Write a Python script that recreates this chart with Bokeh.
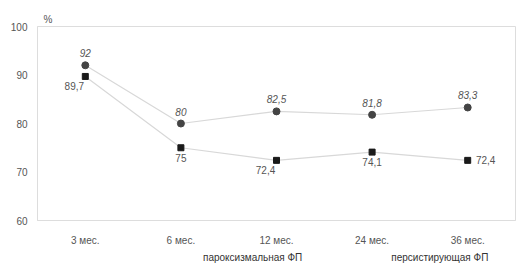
from bokeh.plotting import figure
from bokeh.layouts import column
from bokeh.models import Range1d, FactorRange, Legend, LegendItem, ColumnDataSource
from bokeh.core.properties import value
from bokeh.embed import file_html
from bokeh.resources import INLINE

periods = ["3 мес.", "6 мес.", "12 мес.", "24 мес.", "36 мес."]
parox = [92, 80, 82.5, 81.8, 83.3]
persist = [89.7, 75, 72.4, 74.1, 72.4]
parox_lbl = ["92", "80", "82,5", "81,8", "83,3"]
persist_lbl = ["89,7", "75", "72,4", "74,1", "72,4"]
y_ticks = [60, 70, 80, 90, 100]
series_names = ["пароксизмальная ФП", "персистирующая ФП"]

FONT = "Liberation Sans"
TXT = "#555555"
LINE_C = "#d8d8d8"
P_C = "#444444"
S_C = "#1a1a1a"

p = figure(frame_width=478, frame_height=194, x_range=FactorRange(*periods), y_range=Range1d(60, 100),
           output_backend="svg", toolbar_location=None,
           min_border_left=37, min_border_right=2, min_border_top=26, min_border_bottom=0)
p.title.text = "%"
p.title.text_font = FONT
p.title.text_font_size = "10px"
p.title.text_font_style = "normal"
p.title.text_color = TXT
p.title.align = "left"
p.title.offset = 6
p.title.standoff = 4

p.outline_line_color = "#dddddd"
p.xgrid.visible = False
p.ygrid.visible = False
p.background_fill_color = "white"
p.border_fill_color = "white"

src_p = ColumnDataSource(dict(x=periods, y=parox, t=parox_lbl))
src_s = ColumnDataSource(dict(x=periods, y=persist, t=persist_lbl,
                              xo=[-11, 0, -11, 0, 18], yo=[10, 10, 10, 10, 0]))

p.line("x", "y", source=src_p, line_color=LINE_C, line_width=1.2)
p.scatter("x", "y", source=src_p, marker="circle", size=7, fill_color=P_C, line_color=P_C)
p.line("x", "y", source=src_s, line_color=LINE_C, line_width=1.2)
p.scatter("x", "y", source=src_s, marker="square", size=6, fill_color=S_C, line_color=S_C)

p.text("x", "y", text="t", source=src_p, y_offset=-8, text_align="center", text_baseline="bottom",
       text_font=value(FONT), text_font_size="10px", text_font_style="italic", text_color=TXT)
p.text("x", "y", text="t", source=src_s, x_offset="xo", y_offset="yo", text_align="center",
       text_baseline="middle", text_font=value(FONT), text_font_size="10px", text_color=TXT)

p.yaxis.ticker = y_ticks
for ax in (p.xaxis[0], p.yaxis[0]):
    ax.axis_line_color = "#dddddd"
    ax.major_tick_line_color = None
    ax.minor_tick_line_color = None
    ax.major_tick_out = 0
    ax.major_tick_in = 0
    ax.axis_label = None
    ax.axis_label_standoff = 0
    ax.major_label_text_font = FONT
    ax.major_label_text_font_size = "10px"
    ax.major_label_text_color = TXT
p.xaxis.major_label_standoff = 14
p.yaxis.major_label_standoff = 10

# legend row as a separate small figure (keeps the legend visible below the axis)
p2 = figure(width=517, height=18, x_range=Range1d(0, 1), y_range=Range1d(0, 1),
            output_backend="svg", toolbar_location=None,
            x_axis_location=None, y_axis_location=None,
            min_border_left=0, min_border_right=0, min_border_top=0, min_border_bottom=0)
p2.outline_line_color = None
p2.xgrid.visible = False
p2.ygrid.visible = False
empty = ColumnDataSource(dict(x=[], y=[]))
k1 = p2.line("x", "y", source=empty, line_color="#888888", line_width=1.2)
k2 = p2.scatter("x", "y", source=empty, marker="circle", size=4, fill_color=P_C, line_color=P_C)
k3 = p2.line("x", "y", source=empty, line_color=LINE_C, line_width=1.2)
k4 = p2.scatter("x", "y", source=empty, marker="square", size=5, fill_color=S_C, line_color=S_C)

legend = Legend(items=[LegendItem(label=series_names[0], renderers=[k1, k2]),
                       LegendItem(label=series_names[1], renderers=[k3, k4])],
                orientation="horizontal", location=(135, 3),
                label_text_font=FONT, label_text_font_size="10px", label_text_color="#333333",
                border_line_color=None, background_fill_alpha=0, spacing=58,
                glyph_width=28, glyph_height=8, label_standoff=3, padding=0, margin=0,
                label_height=8)
p2.add_layout(legend)

open("out.html", "w").write(file_html(column(p, p2), INLINE))
